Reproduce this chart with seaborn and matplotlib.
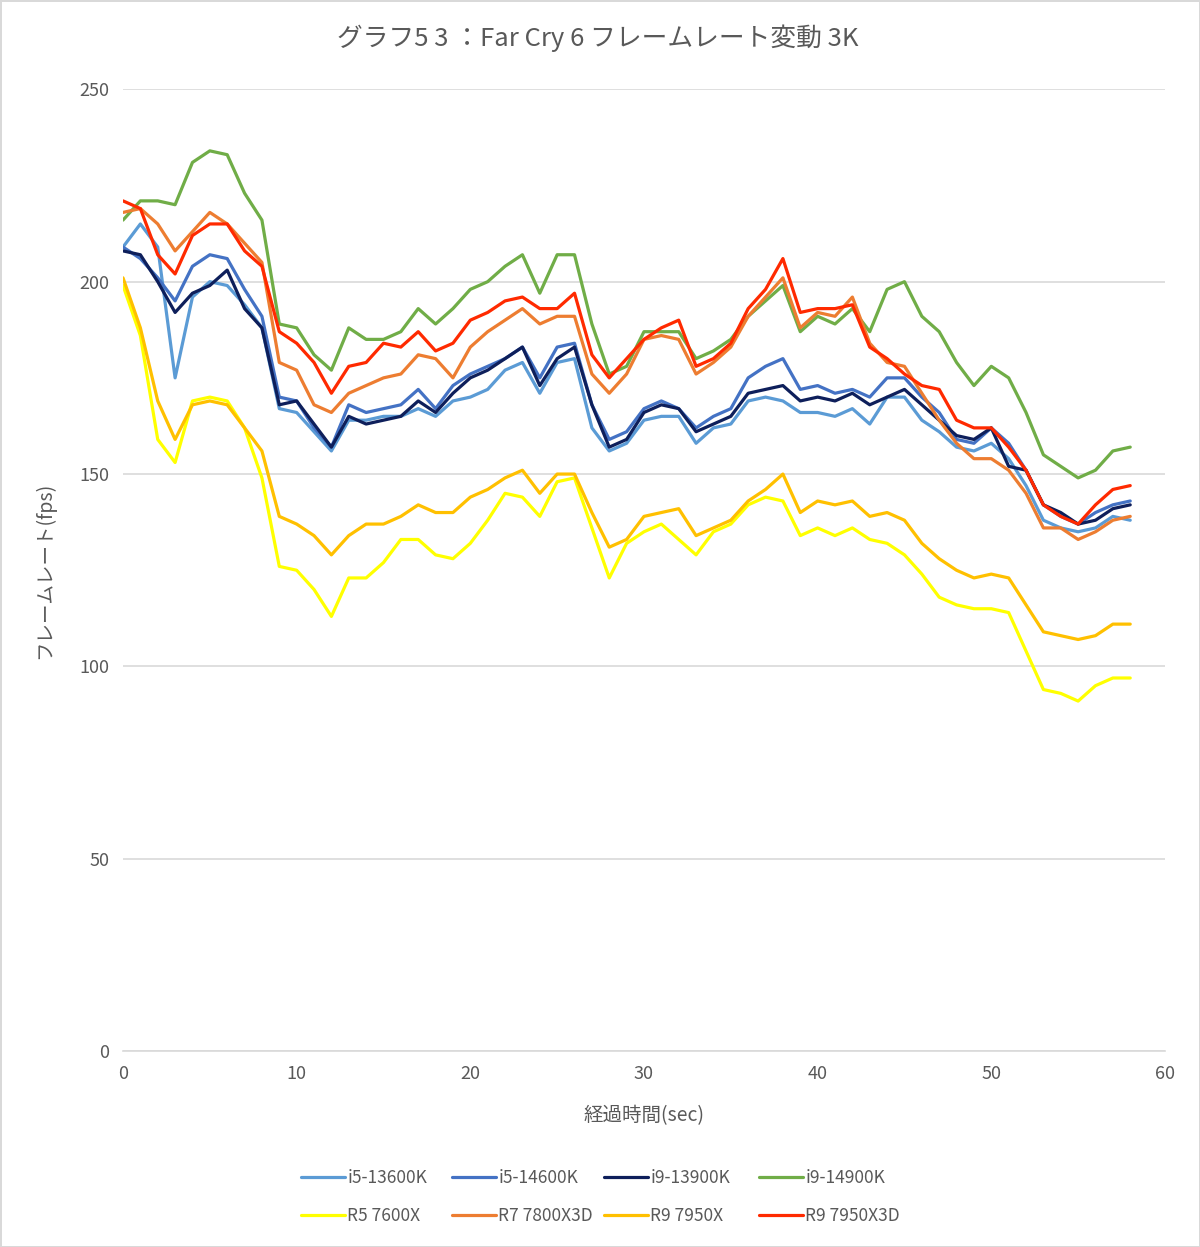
import numpy as np
import pandas as pd
import matplotlib
matplotlib.use('Agg')
import matplotlib.pyplot as plt
import seaborn as sns

# time axis (sec)
seconds = list(range(59))

# frame rates
i5_13600k = [209, 215, 209, 175, 196, 200, 199, 194, 188, 167, 166, 161, 156, 164, 164, 165, 165, 167, 165,
             169, 170, 172, 177, 179, 171, 179, 180, 162, 156, 158, 164, 165, 165, 158, 162, 163,
             169, 170, 169, 166, 166, 165, 167, 163, 170, 170, 164, 161, 157, 156, 158, 154, 147,
             138, 136, 135, 136, 139, 138]
i5_14600k = [209, 206, 201, 195, 204, 207, 206, 198, 191, 170, 169, 162, 157, 168, 166, 167, 168, 172, 167,
             173, 176, 178, 180, 183, 175, 183, 184, 168, 159, 161, 167, 169, 167, 162, 165, 167,
             175, 178, 180, 172, 173, 171, 172, 170, 175, 175, 170, 166, 159, 158, 162, 158, 151,
             142, 139, 137, 140, 142, 143]
i9_13900k = [208, 207, 200, 192, 197, 199, 203, 193, 188, 168, 169, 163, 157, 165, 163, 164, 165, 169, 166,
             171, 175, 177, 180, 183, 173, 180, 183, 168, 157, 159, 166, 168, 167, 161, 163, 165,
             171, 172, 173, 169, 170, 169, 171, 168, 170, 172, 168, 164, 160, 159, 162, 152, 151,
             142, 140, 137, 138, 141, 142]
i9_14900k = [216, 221, 221, 220, 231, 234, 233, 223, 216, 189, 188, 181, 177, 188, 185, 185, 187, 193, 189,
             193, 198, 200, 204, 207, 197, 207, 207, 189, 176, 178, 187, 187, 187, 180, 182, 185,
             191, 195, 199, 187, 191, 189, 193, 187, 198, 200, 191, 187, 179, 173, 178, 175, 166,
             155, 152, 149, 151, 156, 157]
r5_7600x = [199, 186, 159, 153, 169, 170, 169, 162, 149, 126, 125, 120, 113, 123, 123, 127, 133, 133, 129,
            128, 132, 138, 145, 144, 139, 148, 149, 136, 123, 132, 135, 137, 133, 129, 135, 137,
            142, 144, 143, 134, 136, 134, 136, 133, 132, 129, 124, 118, 116, 115, 115, 114, 104,
            94, 93, 91, 95, 97, 97]
r7_7800x3d = [218, 219, 215, 208, 213, 218, 215, 210, 205, 179, 177, 168, 166, 171, 173, 175, 176, 181, 180,
              175, 183, 187, 190, 193, 189, 191, 191, 176, 171, 176, 185, 186, 185, 176, 179, 183,
              191, 196, 201, 188, 192, 191, 196, 184, 179, 178, 171, 164, 158, 154, 154, 151, 145,
              136, 136, 133, 135, 138, 139]
r9_7950x = [201, 188, 169, 159, 168, 169, 168, 162, 156, 139, 137, 134, 129, 134, 137, 137, 139, 142, 140,
            140, 144, 146, 149, 151, 145, 150, 150, 140, 131, 133, 139, 140, 141, 134, 136, 138,
            143, 146, 150, 140, 143, 142, 143, 139, 140, 138, 132, 128, 125, 123, 124, 123, 116,
            109, 108, 107, 108, 111, 111]
r9_7950x3d = [221, 219, 207, 202, 212, 215, 215, 208, 204, 187, 184, 179, 171, 178, 179, 184, 183, 187, 182,
              184, 190, 192, 195, 196, 193, 193, 197, 181, 175, 180, 185, 188, 190, 178, 180, 184,
              193, 198, 206, 192, 193, 193, 194, 183, 180, 176, 173, 172, 164, 162, 162, 157, 151,
              142, 139, 137, 142, 146, 147]

cpu_names = ['i5-13600K', 'i5-14600K', 'i9-13900K', 'i9-14900K',
             'R5 7600X', 'R7 7800X3D', 'R9 7950X', 'R9 7950X3D']
cpu_values = [i5_13600k, i5_14600k, i9_13900k, i9_14900k,
              r5_7600x, r7_7800x3d, r9_7950x, r9_7950x3d]
cpu_colors = ['#5B9BD5', '#4472C4', '#0E1F5B', '#70AD47',
              '#FFFF00', '#ED7D31', '#FFC000', '#FF2A00']

# long format for seaborn
frames = []
for name, vals in zip(cpu_names, cpu_values):
    frames.append(pd.DataFrame({'sec': seconds, 'fps': vals, 'cpu': name}))
df = pd.concat(frames, ignore_index=True)

sns.set_theme(style='white')
plt.rcParams['font.family'] = ['Noto Sans CJK JP', 'DejaVu Sans']
text_gray = '#595959'

fig = plt.figure(figsize=(12, 12.47), dpi=100)
ax = fig.add_axes([0.1025, 0.157, 0.8683, 0.7714])

sns.lineplot(data=df, x='sec', y='fps', hue='cpu', hue_order=cpu_names,
             palette=dict(zip(cpu_names, cpu_colors)), linewidth=2.3, ax=ax, legend=True)

ax.set_xlim(0, 60)
ax.set_ylim(0, 250)
ax.set_xticks(range(0, 61, 10))
ax.set_yticks(range(0, 251, 50))
ax.yaxis.grid(True, color='#d9d9d9', linewidth=1.2)
ax.xaxis.grid(False)
for s in ['top', 'right', 'left']:
    ax.spines[s].set_visible(False)
ax.spines['bottom'].set_color('#d9d9d9')
ax.spines['bottom'].set_linewidth(1.2)
ax.tick_params(axis='both', length=0, labelsize=13, colors=text_gray, pad=10)
ax.set_xlabel('経過時間(sec)', fontsize=14, color=text_gray, labelpad=16)
ax.set_ylabel('フレームレート(fps)', fontsize=14, color=text_gray, labelpad=17)
fig.suptitle('グラフ5 3 ：Far Cry 6 フレームレート変動 3K', x=0.498, y=1 - 38 / 1247,
             va='center', fontsize=18.5, color=text_gray)

# legend: excel-style fixed-width columns, two rows
handles, labels = ax.get_legend_handles_labels()
ax.get_legend().remove()
col_x = [301, 452, 604, 759]
for c in range(4):
    leg = fig.legend([handles[c], handles[c + 4]], [labels[c], labels[c + 4]],
                     loc='center left', bbox_to_anchor=(col_x[c] / 1200, 1 - 1197 / 1247),
                     frameon=False, fontsize=12.5, handlelength=2.55, handletextpad=0.12,
                     labelspacing=1.15, borderpad=0, borderaxespad=0, labelcolor=text_gray)

fig.patch.set_edgecolor('#d9d9d9')
fig.patch.set_linewidth(2)

fig.savefig('out.png', dpi=100, edgecolor=fig.get_edgecolor())
